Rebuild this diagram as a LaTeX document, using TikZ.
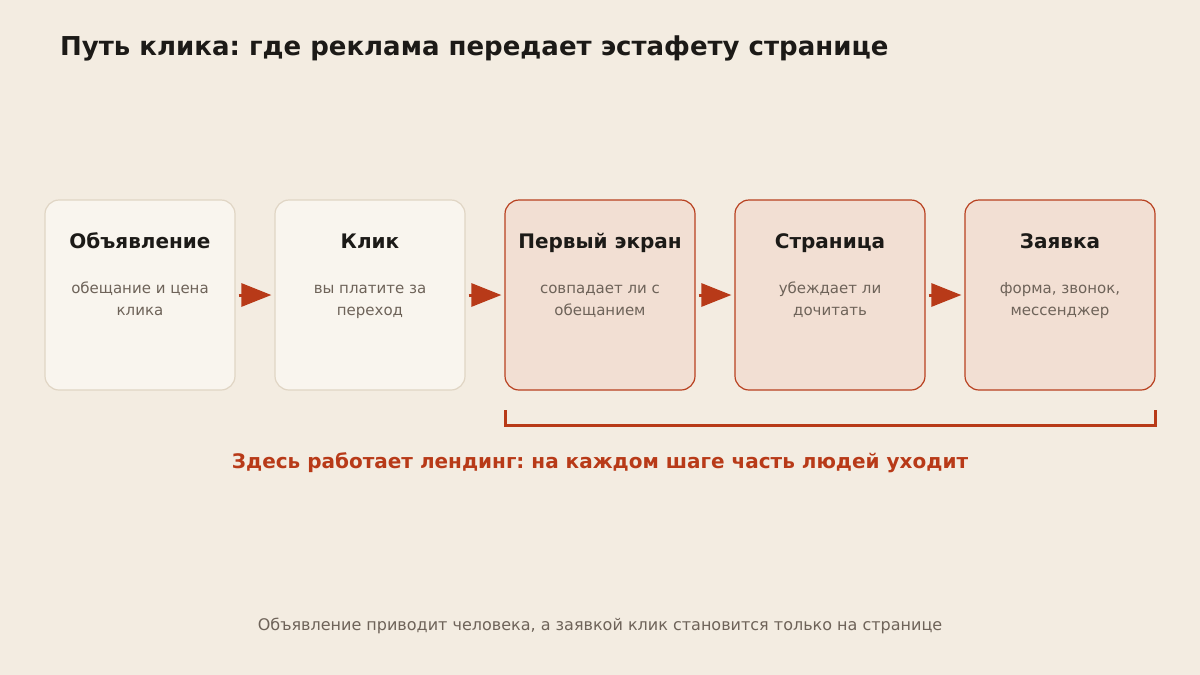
\documentclass[tikz,border=0pt]{standalone}
\usepackage{fontspec}
\setmainfont{DejaVu Sans}
\frenchspacing
\usetikzlibrary{arrows.meta}
\definecolor{bg}{HTML}{F3ECE1}
\definecolor{lightfill}{HTML}{F9F5EE}
\definecolor{lightline}{HTML}{E0D5C4}
\definecolor{hotfill}{HTML}{F2DFD3}
\definecolor{hotline}{HTML}{B8401F}
\definecolor{accent}{HTML}{B83A18}
\definecolor{ink}{HTML}{1C1A17}
\definecolor{muted}{HTML}{6E6359}
\tikzset{
  stage/.style={rounded corners=14pt, minimum width=190pt, minimum height=190pt, line width=1.2pt, inner sep=0pt},
  coldstage/.style={stage, draw=lightline, fill=lightfill},
  hotstage/.style={stage, draw=hotline, fill=hotfill},
  stagetitle/.style={font=\bfseries\fontsize{20}{24}\selectfont, text=ink, anchor=base},
  stagesub/.style={font=\fontsize{15}{22}\selectfont, text=muted, anchor=base},
  flow/.style={draw=accent, line width=3pt, -{Triangle[length=30pt,width=23pt]}, shorten <=3pt, shorten >=3pt},
}
\begin{document}
\begin{tikzpicture}[x=1pt,y=-1pt]
\fill[bg] (0,0) rectangle (1200,675);
\useasboundingbox (0,0) rectangle (1200,675);
\node[anchor=base west, font=\bfseries\fontsize{26}{30}\selectfont, text=ink, inner sep=0pt] (title) at (60,55) {Путь клика: где реклама передает эстафету странице};

\node[coldstage] (s1) at (140,295) {};
\node[coldstage] (s2) at (370,295) {};
\node[hotstage] (s3) at (600,295) {};
\node[hotstage] (s4) at (830,295) {};
\node[hotstage] (s5) at (1060,295) {};

\node[stagetitle] (t1) at (140,248) {Объявление};
\node[stagetitle] (t2) at (370,248) {Клик};
\node[stagetitle] (t3) at (600,248) {Первый экран};
\node[stagetitle] (t4) at (830,248) {Страница};
\node[stagetitle] (t5) at (1060,248) {Заявка};

\node[stagesub] (d1a) at (140,293) {обещание и цена};
\node[stagesub] (d1b) at (140,315) {клика};
\node[stagesub] (d2a) at (370,293) {вы платите за};
\node[stagesub] (d2b) at (370,315) {переход};
\node[stagesub] (d3a) at (600,293) {совпадает ли с};
\node[stagesub] (d3b) at (600,315) {обещанием};
\node[stagesub] (d4a) at (830,293) {убеждает ли};
\node[stagesub] (d4b) at (830,315) {дочитать};
\node[stagesub] (d5a) at (1060,293) {форма, звонок,};
\node[stagesub] (d5b) at (1060,315) {мессенджер};

\draw[flow] (s1.east) -- (s2.west);
\draw[flow] (s2.east) -- (s3.west);
\draw[flow] (s3.east) -- (s4.west);
\draw[flow] (s4.east) -- (s5.west);

\coordinate (bl) at (505,410);
\coordinate (br) at (1155,410);
\draw[accent, line width=3pt] (bl) -- ++(0,15) -| (br);

\node[anchor=base, font=\bfseries\fontsize{20}{24}\selectfont, text=accent] (note) at (600,468) {Здесь работает лендинг: на каждом шаге часть людей уходит};
\node[anchor=base, font=\fontsize{16}{19}\selectfont, text=muted] (foot) at (600,630) {Объявление приводит человека, а заявкой клик становится только на странице};
\end{tikzpicture}
\end{document}
